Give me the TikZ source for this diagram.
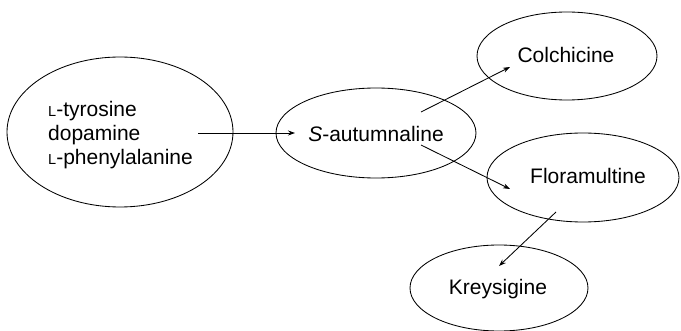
\documentclass[tikz,border=0pt]{standalone}
\usepackage{fontspec}
\setmainfont{Liberation Sans}
\usetikzlibrary{shapes.geometric,arrows.meta}
\newcommand{\smallL}{{\fontsize{14.5}{14.5}\selectfont L}}
\begin{document}
\begin{tikzpicture}[x=1pt,y=-1pt,
  oval/.style={draw,ellipse,line width=0.85pt,inner sep=0pt},
  lbl/.style={font=\fontsize{21}{24}\selectfont,inner sep=0pt,anchor=base},
  conn/.style={line width=0.85pt,-{Stealth[length=7pt,width=5pt]}}]
\useasboundingbox (0,0) rectangle (681,331);
% ellipses
\node[oval,minimum width=226,minimum height=150] (src) at (120,132) {};
\node[oval,minimum width=200,minimum height=90] (saut) at (376,133) {};
\node[oval,minimum width=180,minimum height=88] (col) at (567,56) {};
\node[oval,minimum width=192,minimum height=89] (flo) at (583,177.5) {};
\node[oval,minimum width=178,minimum height=86] (kre) at (499,288) {};
% texts
\node[lbl,anchor=base west] (t1) at (48,117) {\smallL-tyrosine};
\node[lbl,anchor=base west] (t2) at (48,141) {dopamine};
\node[lbl,anchor=base west] (t3) at (48,165) {\smallL-phenylalanine};
\node[lbl] (ts) at (376,142) {\textit{S}-autumnaline};
\node[lbl] (tc) at (566,63) {Colchicine};
\node[lbl] (tf) at (588,184) {Floramultine};
\node[lbl] (tk) at (498,295) {Kreysigine};
% connector ends
\coordinate (a1s) at (198,133); \coordinate (a1e) at (295,133);
\coordinate (a2s) at (421,112); \coordinate (a2e) at (510,67);
\coordinate (a3s) at (421,145); \coordinate (a3e) at (510,189);
\coordinate (a4s) at (556,212); \coordinate (a4e) at (499,266);
\draw[conn] (a1s) -- (a1e);
\draw[conn] (a2s) -- (a2e);
\draw[conn] (a3s) -- (a3e);
\draw[conn] (a4s) -- (a4e);
\end{tikzpicture}
\end{document}
